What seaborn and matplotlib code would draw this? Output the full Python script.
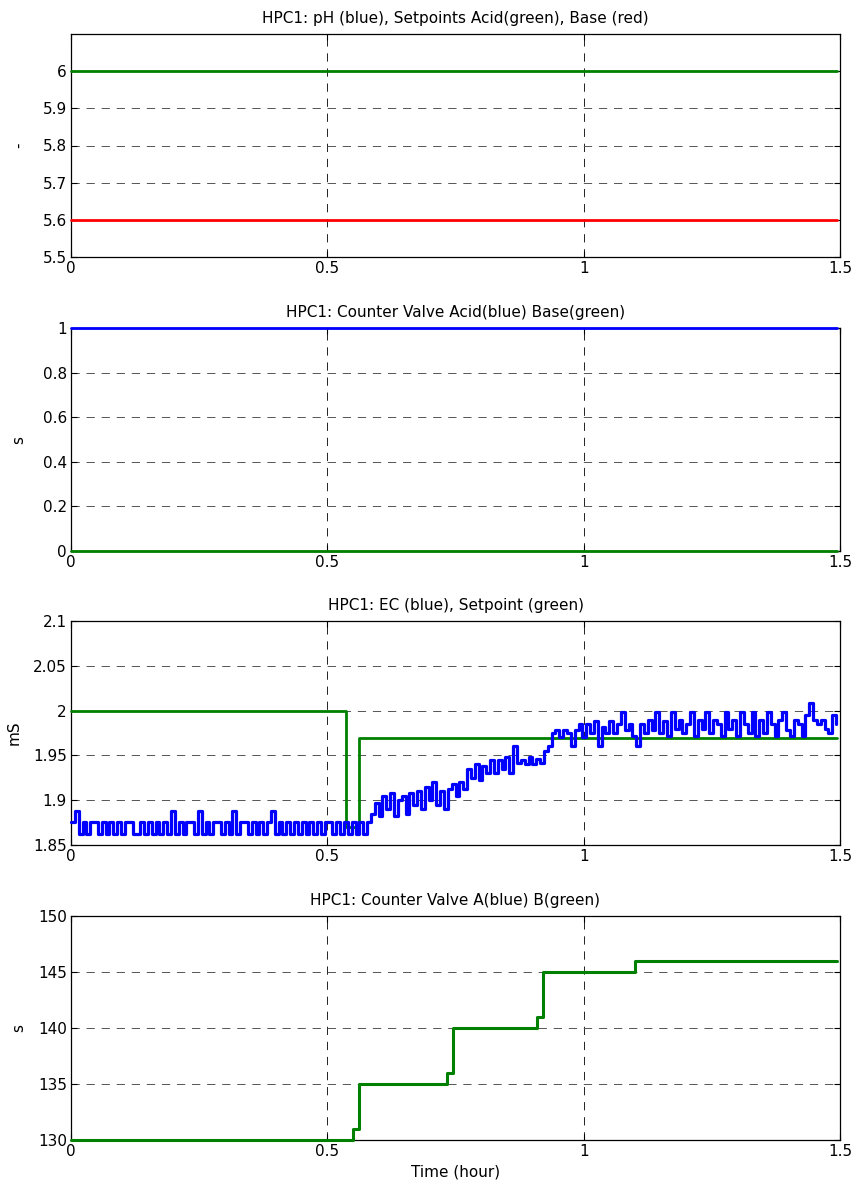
import numpy as np
import pandas as pd
import matplotlib
matplotlib.use("Agg")
import matplotlib.pyplot as plt
import seaborn as sns

# ---------------- data ----------------
# Panel 1: pH setpoints
ph_time = [0.0, 1.495]
ph_acid_sp = [6.0, 6.0]      # green
ph_base_sp = [5.6, 5.6]      # red

# Panel 2: counter valves acid/base
cv_time = [0.0, 1.495]
cv_acid = [1.0, 1.0]         # blue
cv_base = [0.0, 0.0]         # green

# Panel 3: EC (blue) sampled every 0.0075 h, setpoint (green) steps
ec_dt = 0.0075
ec_values = [
    1.876, 1.888, 1.862, 1.876, 1.862, 1.876, 1.876, 1.862, 1.876, 1.862,
    1.876, 1.862, 1.876, 1.862, 1.876, 1.876, 1.862, 1.862, 1.876, 1.862,
    1.876, 1.862, 1.876, 1.862, 1.876, 1.862, 1.888, 1.862, 1.876, 1.862,
    1.876, 1.876, 1.862, 1.888, 1.862, 1.876, 1.862, 1.876, 1.876, 1.862,
    1.876, 1.862, 1.888, 1.862, 1.876, 1.876, 1.862, 1.876, 1.862, 1.876,
    1.862, 1.876, 1.888, 1.862, 1.876, 1.862, 1.876, 1.862, 1.876, 1.862,
    1.876, 1.862, 1.876, 1.862, 1.876, 1.862, 1.876, 1.876, 1.862, 1.876,
    1.862, 1.876, 1.862, 1.876, 1.862, 1.876, 1.862, 1.876, 1.885, 1.897,
    1.882, 1.905, 1.890, 1.908, 1.882, 1.900, 1.905, 1.885, 1.908, 1.895,
    1.910, 1.890, 1.915, 1.900, 1.920, 1.895, 1.910, 1.890, 1.912, 1.918,
    1.905, 1.920, 1.912, 1.935, 1.925, 1.940, 1.922, 1.938, 1.930, 1.945,
    1.930, 1.945, 1.935, 1.948, 1.930, 1.960, 1.942, 1.945, 1.940, 1.948,
    1.940, 1.946, 1.942, 1.955, 1.960, 1.975, 1.978, 1.970, 1.978, 1.975,
    1.960, 1.978, 1.985, 1.970, 1.985, 1.975, 1.988, 1.960, 1.982, 1.975,
    1.988, 1.975, 1.985, 1.998, 1.978, 1.985, 1.972, 1.960, 1.985, 1.975,
    1.990, 1.978, 1.998, 1.975, 1.988, 1.972, 1.998, 1.980, 1.990, 1.975,
    1.985, 1.998, 1.972, 1.990, 1.980, 1.998, 1.975, 1.990, 1.985, 1.972,
    1.998, 1.980, 1.990, 1.972, 1.998, 1.985, 1.975, 1.998, 1.972, 1.990,
    1.975, 1.998, 1.985, 1.972, 1.990, 1.998, 1.978, 1.972, 1.990, 1.985,
    1.972, 1.995, 2.008, 1.990, 1.985, 1.990, 1.980, 1.975, 1.995, 1.985,
]
ec_sp_time = [0.0, 0.537, 0.562, 1.495]
ec_sp_values = [2.0, 1.870, 1.969, 1.969]

# Panel 4: counter valve B (green) steps
cvb_time = [0.0, 0.550, 0.562, 0.733, 0.745, 0.909, 0.920, 1.100, 1.495]
cvb_values = [130, 131, 135, 136, 140, 141, 145, 146, 146]

titles = [
    "HPC1: pH (blue), Setpoints Acid(green), Base (red)",
    "HPC1: Counter Valve Acid(blue) Base(green)",
    "HPC1: EC (blue), Setpoint (green)",
    "HPC1: Counter Valve A(blue) B(green)",
]
ylabels = ["-", "s", "mS", "s"]
xticks = [0, 0.5, 1, 1.5]
xtick_labels = ["0", "0.5", "1", "1.5"]
yticks = [
    [5.5, 5.6, 5.7, 5.8, 5.9, 6.0],
    [0, 0.2, 0.4, 0.6, 0.8, 1.0],
    [1.85, 1.9, 1.95, 2.0, 2.05, 2.1],
    [130, 135, 140, 145, 150],
]
ytick_labels = [
    ["5.5", "5.6", "5.7", "5.8", "5.9", "6"],
    ["0", "0.2", "0.4", "0.6", "0.8", "1"],
    ["1.85", "1.9", "1.95", "2", "2.05", "2.1"],
    ["130", "135", "140", "145", "150"],
]
ylims = [(5.5, 6.1), (0, 1), (1.85, 2.1), (130, 150)]

# ---------------- style ----------------
sns.set_theme(style="white")
plt.rcParams["font.family"] = ["DejaVu Sans"]
FS = 11

BLUE = "#0000ff"
GREEN = "#008000"
RED = "#ff0000"

W, H = 856, 1188
fig = plt.figure(figsize=(W / 100, H / 100), dpi=100)
fig.patch.set_facecolor("white")

left_px, right_px = 71, 840
boxes = [(34, 257), (328, 551), (621, 845), (916, 1140)]
axes = []
for top, bot in boxes:
    ax = fig.add_axes([left_px / W, (H - bot) / H, (right_px - left_px) / W, (bot - top) / H])
    axes.append(ax)

LW = 2.0
Z = 5

# Panel 1
df1 = pd.DataFrame({"t": ph_time, "acid": ph_acid_sp, "base": ph_base_sp})
sns.lineplot(data=df1, x="t", y="acid", ax=axes[0], color=GREEN, lw=LW, clip_on=False, zorder=Z)
sns.lineplot(data=df1, x="t", y="base", ax=axes[0], color=RED, lw=LW, clip_on=False, zorder=Z)

# Panel 2
df2 = pd.DataFrame({"t": cv_time, "acid": cv_acid, "base": cv_base})
sns.lineplot(data=df2, x="t", y="acid", ax=axes[1], color=BLUE, lw=LW, clip_on=False, zorder=Z)
sns.lineplot(data=df2, x="t", y="base", ax=axes[1], color=GREEN, lw=LW, clip_on=False, zorder=Z)

# Panel 3
ec_time = np.arange(len(ec_values)) * ec_dt
df3 = pd.DataFrame({"t": ec_time, "ec": ec_values})
df3sp = pd.DataFrame({"t": ec_sp_time, "sp": ec_sp_values})
sns.lineplot(data=df3sp, x="t", y="sp", ax=axes[2], color=GREEN, lw=LW,
             drawstyle="steps-post", clip_on=False, zorder=Z)
sns.lineplot(data=df3, x="t", y="ec", ax=axes[2], color=BLUE, lw=LW + 0.3,
             drawstyle="steps-post", clip_on=False, zorder=Z + 1)

# Panel 4
df4 = pd.DataFrame({"t": cvb_time, "b": cvb_values})
sns.lineplot(data=df4, x="t", y="b", ax=axes[3], color=GREEN, lw=LW + 0.2,
             drawstyle="steps-post", clip_on=False, zorder=Z)

dash = (0, (8.5, 7))
label_x = [-0.058, -0.058, -0.064, -0.058]
for i, ax in enumerate(axes):
    ax.set_xlim(0, 1.5)
    ax.set_ylim(*ylims[i])
    ax.set_xticks(xticks)
    ax.set_xticklabels(xtick_labels)
    ax.set_yticks(yticks[i])
    ax.set_yticklabels(ytick_labels[i])
    ax.set_title(titles[i], fontsize=FS, pad=8, color="black")
    ax.set_ylabel(ylabels[i], fontsize=FS, color="black")
    ax.yaxis.set_label_coords(label_x[i], 0.5)
    ax.set_xlabel("")
    ax.xaxis.grid(True, color="#222222", linestyle=dash, linewidth=0.7)
    ax.yaxis.grid(True, color="#555555", linestyle=dash, linewidth=0.7)
    ax.set_axisbelow(True)
    for s in ax.spines.values():
        s.set_visible(True)
        s.set_color("black")
        s.set_linewidth(0.9)
    ax.tick_params(direction="in", length=4, width=0.8, colors="black",
                   labelsize=FS, pad=3, top=True, right=True,
                   bottom=True, left=True)
    ax.set_facecolor("white")

axes[3].set_xlabel("Time (hour)", fontsize=FS, color="black", labelpad=4)

fig.savefig("out.png", dpi=100, facecolor="white")
